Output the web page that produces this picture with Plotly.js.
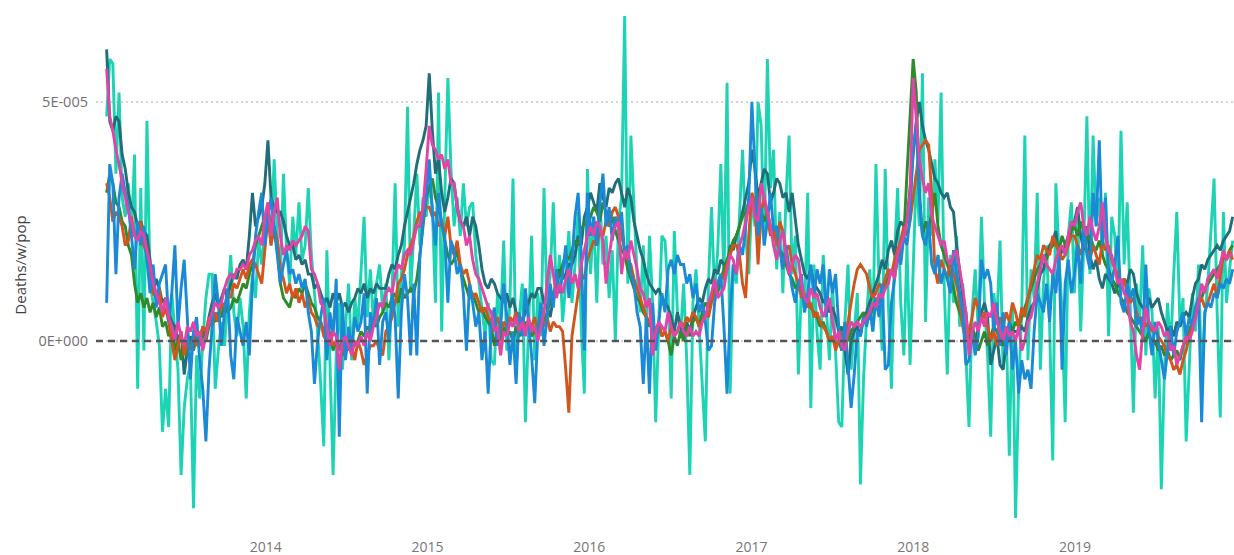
<!DOCTYPE html>
<html>
<head>
<meta charset="utf-8">
<script src="https://cdn.plot.ly/plotly-3.0.1.min.js"></script>
<style>
html,body{margin:0;padding:0;background:#ffffff;}
#chart{width:1234px;height:555px;}
</style>
</head>
<body>
<div id="chart"></div>
<script>
// ---- categories / axis labels ----
const firstWeek = '2013-01-07';          // first weekly observation (Mondays)
const yearTicks = ['2014-01-01','2015-01-01','2016-01-01','2017-01-01','2018-01-01','2019-01-01'];
const yearLabels = ['2014','2015','2016','2017','2018','2019'];
const yTickVals = [0, 5e-5];
const yTickText = ['0E+000', '5E-005'];
const yTitle = 'Deaths/w/pop';
const valueUnit = 1e-6;                    // series values below are in millionths

const seriesNames = ['Series 1','Series 2','Series 3','Series 4','Series 5','Series 6'];

// ---- weekly series values (x 1e-6), 2013-01-07 .. 2019-12-23 ----
const turquoise = [
47,59,58,35,52,30,26,33,22,39,-10,32,-2,46,12,8,4,-1,-19,-10,-18,10,2,-6,-28,-14,-8,-5,-35,-3,-12,0,9,14,14,-10,-2,4,-1,8,18,6,1,9,3,-12,6,14,9,21,16,24,
28,20,38,22,14,35,19,12,26,18,29,17,20,32,18,10,2,-9,-22,19,-5,-28,-3,8,-6,4,12,-4,9,3,14,26,5,15,4,12,16,6,12,-4,10,33,3,14,20,49,10,22,35,20,30,26,
33,28,8,52,2,30,55,36,24,30,22,33,24,28,29,18,12,6,1,8,-4,-5,10,4,21,-2,8,34,-6,5,12,-17,3,22,-4,10,1,32,6,14,29,9,18,4,12,23,8,16,27,3,-11,36,
14,26,8,30,16,22,9,19,0,25,30,68,12,43,28,14,6,20,2,22,8,-17,4,22,21,10,-12,23,6,1,12,-4,-28,8,15,2,-9,-21,12,28,10,19,37,12,54,-11,16,12,26,40,22,14,
30,24,50,45,20,59,32,40,15,27,10,30,43,14,22,-7,12,6,31,-14,16,2,-6,18,7,-4,12,-3,-17,-18,4,16,-6,2,10,-30,-8,5,15,2,37,12,-2,36,8,-10,18,32,8,-3,20,-5,
15,35,24,56,4,30,22,38,25,52,12,-7,18,8,22,3,12,-5,-18,6,15,2,26,8,-3,-20,10,4,21,-6,3,-24,8,-37,-10,6,43,-4,15,9,31,-6,12,20,3,-25,33,18,6,-17,22,29,
10,28,2,20,47,14,43,24,30,18,31,1,26,22,10,44,16,29,6,-15,12,4,20,-3,11,6,-12,3,-31,-6,8,-2,14,27,3,9,-21,-4,10,2,16,-8,5,12,22,34,6,-16,27,8,15,21
];
const darkTeal = [
61,46,44,47,46,39,36,31,28,27,24,25,23,22,17,10,13,11,8,9,6,4,3,0,2,-7,-2,1,-1,2,0,3,1,5,8,10,7,9,11,9,12,14,13,16,17,15,22,31,24,26,28,33,
42,30,28,27,27,25,22,20,20,17,18,16,17,14,14,11,12,10,8,9,7,10,8,10,7,8,6,8,9,11,10,12,9,11,10,12,11,11,11,14,16,15,18,20,24,27,30,33,37,40,42,45,
56,44,35,38,31,27,30,34,33,28,25,24,26,22,26,24,20,15,12,11,13,12,10,9,8,10,7,9,6,5,4,6,8,10,9,11,11,8,7,5,9,12,15,13,14,16,16,18,22,20,26,28,
31,29,27,33,30,28,32,31,33,34,31,28,32,30,25,22,19,17,14,12,11,10,11,9,8,7,5,2,6,3,1,4,2,5,7,9,8,11,13,12,15,14,17,16,15,20,19,22,24,27,30,33,
40,36,30,33,36,35,29,31,34,33,30,31,27,31,26,20,17,14,13,15,12,11,10,8,9,6,7,5,2,3,-2,-7,0,2,3,1,5,6,8,10,12,14,17,15,19,21,18,23,25,24,25,32,
38,46,50,45,42,40,37,34,33,31,30,31,28,27,20,14,9,6,-1,1,-1,3,6,8,5,-5,-2,1,-5,-6,0,4,2,2,2,3,2,5,7,8,11,14,15,18,20,21,23,17,19,20,22,24,
25,28,22,19,24,18,15,17,13,11,14,13,12,10,12,11,13,12,15,14,10,8,7,6,9,7,8,9,6,4,2,3,1,4,3,5,6,5,9,12,13,16,15,17,18,19,20,19,21,22,23,26
];
const orange = [
33,30,25,27,26,24,20,21,26,22,21,25,20,18,13,10,9,11,5,7,4,0,-4,-1,2,-3,0,-2,1,-1,0,3,2,5,3,6,4,8,7,10,9,12,11,13,15,13,16,17,16,14,12,19,
26,20,24,21,15,13,10,12,9,11,8,10,7,9,6,5,3,4,1,0,2,-1,0,-2,1,-3,0,-1,-4,0,-2,-5,-3,-1,-1,0,-2,-3,2,3,5,8,12,13,15,18,20,22,25,27,26,28,
28,26,27,24,25,22,26,20,18,21,16,14,15,12,9,10,8,6,7,5,4,3,5,2,4,3,5,4,6,3,5,2,4,3,5,2,4,3,5,2,4,3,3,2,-6,-15,1,6,10,14,13,17,
19,21,20,23,22,25,24,27,28,26,22,19,17,16,13,11,9,7,5,4,3,2,4,1,2,0,3,1,2,4,3,5,4,6,5,3,4,6,5,8,10,12,14,13,16,18,20,20,18,12,9,22,
31,29,16,27,30,26,22,24,20,25,23,19,20,16,14,12,9,10,7,8,5,6,4,3,2,0,1,-2,0,2,1,4,8,12,15,16,15,14,11,9,10,12,11,13,15,14,17,19,21,24,22,25,
30,36,40,41,42,41,30,15,12,17,15,13,17,14,12,8,3,0,2,5,9,7,4,6,3,0,2,-1,5,3,6,4,8,6,3,7,5,9,12,15,18,17,20,19,18,22,20,19,17,18,20,22,
22,20,18,21,19,17,20,18,16,21,19,20,17,15,14,12,13,10,8,9,6,4,5,3,4,2,3,1,0,-1,-3,-4,-6,-5,-7,-4,-2,1,3,6,8,9,7,8,10,12,9,14,18,17,19,17
];
const green = [
31,35,33,29,28,25,24,20,18,12,8,10,7,9,6,8,5,7,3,4,1,3,-2,0,-4,-1,-3,0,-2,1,-1,2,0,3,5,4,6,5,8,6,7,9,8,10,12,11,14,16,20,22,24,26,
27,25,22,20,12,9,8,7,10,9,11,10,12,10,8,7,5,4,2,0,1,-2,0,-1,-3,0,-2,1,-1,0,2,1,3,2,4,3,5,6,8,7,9,10,8,11,9,10,11,10,13,18,24,30,
32,34,30,28,25,21,18,16,17,19,15,13,11,9,10,8,6,7,5,4,3,-1,2,0,3,1,2,0,3,1,2,4,3,1,2,3,5,4,6,8,10,12,14,16,18,17,19,21,20,23,25,24,
26,28,27,25,29,27,24,26,23,21,19,18,15,13,11,9,8,6,5,3,4,2,3,1,2,0,-3,1,-1,2,0,3,1,4,5,3,6,8,7,9,11,10,13,15,17,19,21,22,24,26,27,29,
30,28,31,27,25,27,24,22,21,19,18,16,14,13,11,12,10,8,9,7,6,5,3,4,2,0,1,-1,0,-2,1,0,2,3,4,5,6,4,5,7,9,8,10,12,13,15,14,17,19,22,35,48,
59,52,31,22,25,23,27,31,24,20,18,16,14,11,8,6,4,2,0,3,1,-2,0,2,-1,1,3,2,0,-1,1,3,2,4,3,5,7,9,11,13,15,16,18,17,19,20,21,19,22,20,21,23,
24,22,25,23,21,22,20,19,21,18,16,15,13,12,10,9,8,6,5,4,3,2,1,0,2,-1,0,-2,-1,-3,-2,-4,-3,-2,-4,-1,0,2,4,6,8,9,11,12,13,14,15,16,18,17,19,20
];
const blue = [
8,37,33,14,30,35,31,28,22,15,25,20,24,17,10,16,7,12,14,16,4,10,20,3,11,17,5,-8,2,5,-4,-10,-21,-6,3,14,8,-1,6,11,-3,-8,5,2,-1,4,-3,12,22,27,31,20,
26,30,24,17,12,16,19,14,15,12,14,11,13,6,2,-9,0,5,9,-4,6,1,13,-20,8,-4,3,-2,5,2,4,10,-11,6,3,9,-5,4,6,0,10,5,-12,6,14,9,-3,12,-3,18,25,30,
38,27,20,31,24,22,8,21,19,14,16,10,-2,12,8,3,6,-4,2,-11,4,7,-1,3,12,5,-5,2,-9,6,1,11,4,-3,-13,2,8,-1,5,12,7,15,10,14,20,9,17,26,31,18,-2,31,
22,26,20,29,35,24,28,21,26,24,27,18,20,14,12,6,3,-9,5,-11,8,-2,4,10,6,15,17,14,18,16,16,12,14,9,12,6,8,4,-2,-1,8,12,14,3,-11,6,16,14,20,18,24,30,
50,36,22,28,20,25,31,23,24,19,15,20,15,11,8,12,14,6,10,16,9,15,12,16,5,15,10,14,3,-2,4,-6,-14,-7,2,1,5,3,7,2,9,5,12,-6,-5,8,13,18,16,22,20,26,
40,45,30,22,20,25,16,14,18,12,15,13,10,19,14,10,6,-5,-4,2,-3,1,17,13,15,12,2,8,-1,6,-3,4,-6,0,-11,-4,-8,-6,-10,2,10,8,6,12,4,14,10,18,-6,12,17,10,
14,20,12,24,18,15,31,24,42,20,30,14,12,16,22,8,6,12,9,11,3,5,1,16,2,-3,4,0,-4,-8,-2,3,-3,2,4,6,1,5,3,7,9,-17,6,8,7,10,9,12,11,13,12,15
];
const pink = [
57,47,44,40,37,33,30,27,25,22,21,23,22,19,16,12,10,8,6,9,5,3,0,4,1,-1,3,2,4,1,2,-2,1,4,6,8,7,8,11,13,14,13,15,15,16,15,18,19,21,22,20,26,
29,22,27,30,22,18,20,19,21,20,21,22,24,23,15,14,12,8,7,3,-1,2,1,-6,0,1,-1,-3,0,-1,1,-1,2,0,3,5,8,7,10,11,10,14,16,15,18,19,18,21,24,24,28,36,
45,41,40,38,39,36,38,33,33,28,25,24,20,22,17,14,13,11,9,7,6,2,3,-3,2,1,4,3,5,2,4,1,5,2,3,0,3,6,12,18,14,9,12,10,13,15,12,14,11,16,19,22,
24,22,25,24,21,12,18,22,24,25,14,19,17,21,18,15,11,10,7,9,-3,2,4,3,2,6,3,1,2,4,2,1,3,1,2,1,4,5,8,10,13,9,10,11,15,18,17,14,20,22,25,28,
30,26,25,33,30,27,24,20,17,21,23,18,14,16,18,17,12,9,8,11,9,10,7,5,7,9,4,0,2,-1,-2,2,4,3,4,3,4,5,6,8,7,10,9,11,12,15,13,18,20,22,25,31,
55,46,38,34,31,33,26,24,22,20,21,17,16,18,19,15,11,6,-3,2,4,2,5,3,6,5,8,4,2,0,3,1,2,0,3,-2,0,4,5,8,12,15,18,16,15,14,17,19,20,18,22,25,
24,27,29,24,22,26,23,21,24,29,22,19,18,15,12,13,10,9,4,2,-3,-6,2,7,4,3,2,4,3,1,2,-2,-1,-5,-3,-1,1,0,2,5,8,12,10,13,14,15,13,16,19,17,18,18
];

const seriesValues = [turquoise, darkTeal, green, orange, blue, pink];
const seriesColors = ['#1CD3B4', '#1F6E7A', '#2E8A2A', '#D2561C', '#1A89D6', '#E044A7'];

// weekly dates
function weekDates(n) {
  const t0 = Date.parse(firstWeek + 'T00:00:00Z');
  const out = [];
  for (let i = 0; i < n; i++) out.push(new Date(t0 + i * 7 * 86400000).toISOString().slice(0, 10));
  return out;
}

const traces = seriesValues.map((vals, k) => ({
  type: 'scatter',
  mode: 'lines',
  name: seriesNames[k],
  x: weekDates(vals.length),
  y: vals.map(v => v * valueUnit),
  line: { color: seriesColors[k], width: 2.9, shape: 'linear' },
  hoverinfo: 'x+y+name'
}));

const layout = {
  width: 1234,
  height: 555,
  margin: { l: 96, r: 0, t: 0, b: 25, pad: 0 },
  paper_bgcolor: '#ffffff',
  plot_bgcolor: '#ffffff',
  showlegend: false,
  font: { family: '"Open Sans", "Noto Sans", sans-serif', color: '#777777' },
  xaxis: {
    type: 'date',
    range: ['2012-12-14', '2019-12-26'],
    tickmode: 'array',
    tickvals: yearTicks,
    ticktext: yearLabels,
    showgrid: false,
    zeroline: false,
    showline: false,
    ticks: '',
    tickfont: { size: 14, color: '#777777' },
    ticklabelstandoff: 7,
    automargin: false
  },
  yaxis: {
    range: [-3.954e-5, 7.134e-5],
    tickmode: 'array',
    tickvals: yTickVals,
    ticktext: yTickText,
    showgrid: true,
    gridcolor: '#d4d4d4',
    gridwidth: 1.2,
    griddash: '1.5px,3.5px',
    zeroline: false,
    showline: false,
    ticks: '',
    tickfont: { size: 14.5, color: '#707070' },
    ticklabelstandoff: 7,
    automargin: false,
    title: { text: yTitle, font: { size: 15, color: '#404040' }, standoff: 8 }
  },
  shapes: [{
    type: 'line', xref: 'paper', x0: 0, x1: 1, yref: 'y', y0: 0, y1: 0,
    line: { color: '#555555', width: 2.5, dash: '7px,5px' },
    layer: 'above'
  }]
};

Plotly.newPlot('chart', traces, layout, { staticPlot: true, displayModeBar: false });
</script>
</body>
</html>
